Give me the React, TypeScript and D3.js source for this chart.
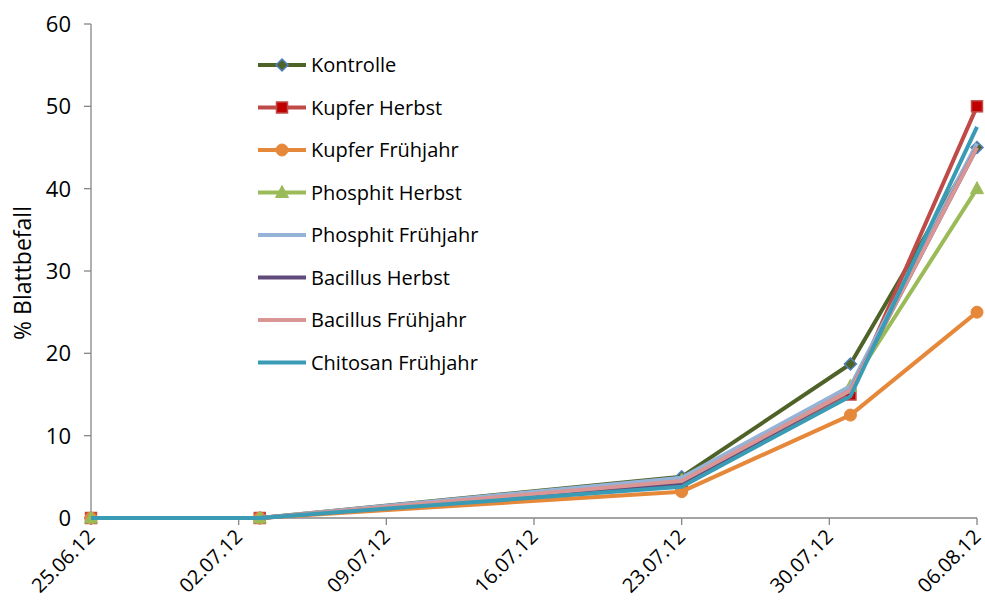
import React from "react";
import * as d3 from "d3";

const dates = ["2012-06-25", "2012-07-03", "2012-07-23", "2012-07-31", "2012-08-06"];
const tickDates = ["2012-06-25", "2012-07-02", "2012-07-09", "2012-07-16", "2012-07-23", "2012-07-30", "2012-08-06"];
const yTicks = [0, 10, 20, 30, 40, 50, 60];

const seriesNames = [
  "Kontrolle",
  "Kupfer Herbst",
  "Kupfer Frühjahr",
  "Phosphit Herbst",
  "Phosphit Frühjahr",
  "Bacillus Herbst",
  "Bacillus Frühjahr",
  "Chitosan Frühjahr",
];
const kontrolle = [0, 0, 5.0, 18.7, 45];
const kupferHerbst = [0, 0, 4.0, 15, 50];
const kupferFruehjahr = [0, 0, 3.2, 12.5, 25];
const phosphitHerbst = [0, 0, 4.6, 16, 40];
const phosphitFruehjahr = [0, 0, 4.9, 16, 45.5];
const bacillusHerbst = [0, 0, 4.2, 15.5, 45];
const bacillusFruehjahr = [0, 0, 4.5, 15.5, 45];
const chitosanFruehjahr = [0, 0, 3.8, 14.8, 47.5];
const seriesValues = [
  kontrolle,
  kupferHerbst,
  kupferFruehjahr,
  phosphitHerbst,
  phosphitFruehjahr,
  bacillusHerbst,
  bacillusFruehjahr,
  chitosanFruehjahr,
];
const lineColors = ["#4F6228", "#BE4B48", "#E6883A", "#9BBB59", "#95B3D7", "#604A7B", "#D99694", "#3A9BB5"];
const markers = ["diamond", "square", "circle", "triangle", "none", "none", "none", "none"];
const markerFill = ["#4F6228", "#C00000", "#E6883A", "#9BBB59", "", "", "", ""];
const markerStroke = ["#4F81BD", "#BE4B48", "#E6883A", "#9BBB59", "", "", "", ""];

const parse = d3.timeParse("%Y-%m-%d");
const fmt = d3.timeFormat("%d.%m.%y");

function Marker({ type, x, y, fill, stroke }: { type: string; x: number; y: number; fill: string; stroke: string }) {
  if (type === "none") return null;
  if (type === "square")
    return <rect x={x - 5.5} y={y - 5.5} width={11} height={11} fill={fill} stroke={stroke} strokeWidth={1.5} />;
  if (type === "circle") return <circle cx={x} cy={y} r={6} fill={fill} stroke={stroke} strokeWidth={1} />;
  if (type === "diamond")
    return (
      <path
        d={`M${x},${y - 6}L${x + 6},${y}L${x},${y + 6}L${x - 6},${y}Z`}
        fill={fill}
        stroke={stroke}
        strokeWidth={1.5}
      />
    );
  if (type === "triangle")
    return (
      <path d={`M${x},${y - 7}L${x + 6.5},${y + 5}L${x - 6.5},${y + 5}Z`} fill={fill} stroke={stroke} strokeWidth={1} />
    );
  return null;
}

export default function App() {
  const W = 985;
  const H = 615;
  const x = d3
    .scaleTime()
    .domain([parse(tickDates[0])!, parse(tickDates[tickDates.length - 1])!])
    .range([91, 977]);
  const y = d3.scaleLinear().domain([0, 60]).range([518, 24]);
  const line = d3
    .line<[Date, number]>()
    .x((d) => x(d[0]))
    .y((d) => y(d[1]));
  const font = "'Open Sans', sans-serif";
  const axisColor = "#868686";

  return (
    <svg width={W} height={H} style={{ position: "absolute", left: 0, top: 0, background: "#fff" }} fontFamily={font}>
      {/* Y axis */}
      <line x1={x.range()[0]} x2={x.range()[0]} y1={y(60)} y2={y(0)} stroke={axisColor} strokeWidth={1.3} />
      {yTicks.map((t) => (
        <g key={t}>
          <line x1={x.range()[0] - 7} x2={x.range()[0]} y1={y(t)} y2={y(t)} stroke={axisColor} strokeWidth={1.3} />
          <text x={71} y={y(t)} dy="0.36em" textAnchor="end" fontSize={22} fill="#000">
            {t}
          </text>
        </g>
      ))}
      <text transform={`translate(31,${y(30) + 2}) rotate(-90)`} textAnchor="middle" fontSize={23} fill="#000">
        % Blattbefall
      </text>
      {/* X axis */}
      <line x1={x.range()[0]} x2={x.range()[1]} y1={y(0)} y2={y(0)} stroke={axisColor} strokeWidth={1.3} />
      {tickDates.map((d) => {
        const xx = x(parse(d)!);
        return (
          <g key={d}>
            <line x1={xx} x2={xx} y1={y(0)} y2={y(0) + 7} stroke={axisColor} strokeWidth={1.3} />
            <text
              transform={`translate(${xx + 5},${y(0) + 20}) rotate(-45)`}
              textAnchor="end"
              fontSize={20}
              fill="#000"
            >
              {fmt(parse(d)!)}
            </text>
          </g>
        );
      })}
      {/* Series */}
      {seriesValues.map((vals, i) => {
        const pts: [Date, number][] = vals.map((v, j) => [parse(dates[j])!, v]);
        return (
          <g key={seriesNames[i]}>
            <path d={line(pts) || ""} fill="none" stroke={lineColors[i]} strokeWidth={4} strokeLinejoin="round" />
            {pts.map((p, j) => (
              <Marker
                key={j}
                type={markers[i]}
                x={x(p[0])}
                y={y(p[1])}
                fill={markerFill[i]}
                stroke={markerStroke[i]}
              />
            ))}
          </g>
        );
      })}
      {/* Legend */}
      {seriesNames.map((name, i) => {
        const ly = 65 + i * 42.5;
        return (
          <g key={name}>
            <line x1={258} x2={306} y1={ly} y2={ly} stroke={lineColors[i]} strokeWidth={4} />
            <Marker type={markers[i]} x={282} y={ly} fill={markerFill[i]} stroke={markerStroke[i]} />
            <text x={311} y={ly} dy="0.36em" fontSize={20} fill="#000">
              {name}
            </text>
          </g>
        );
      })}
    </svg>
  );
}
